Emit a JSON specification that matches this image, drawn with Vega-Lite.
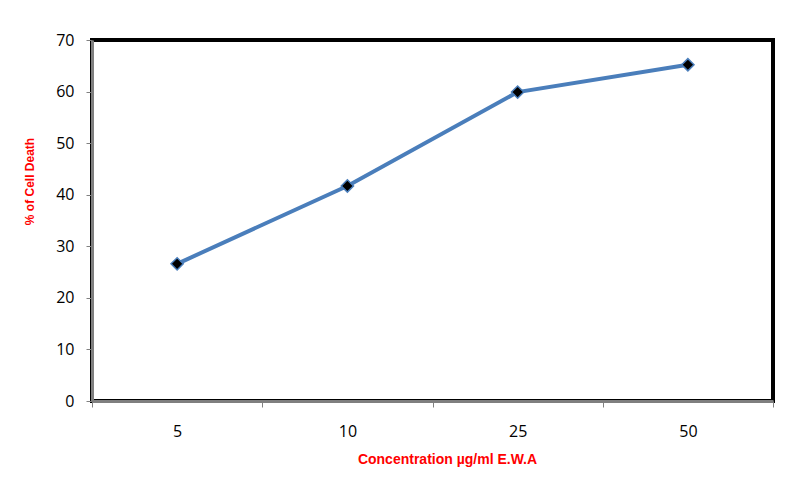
{
  "$schema": "https://vega.github.io/schema/vega-lite/v6.json",
  "width": 681,
  "height": 361,
  "autosize": {"type": "none"},
  "padding": {"left": 92, "top": 40, "right": 39, "bottom": 77},
  "background": "white",
  "config": {
    "view": {"stroke": "black", "strokeWidth": 4},
    "font": "Liberation Sans"
  },
  "data": {
    "values": [
      {"conc": "5", "death": 26.6},
      {"conc": "10", "death": 41.7},
      {"conc": "25", "death": 59.9},
      {"conc": "50", "death": 65.2}
    ]
  },
  "encoding": {
    "x": {
      "field": "conc",
      "type": "ordinal",
      "sort": null,
      "scale": {"type": "band", "paddingInner": 0, "paddingOuter": 0},
      "axis": {
        "title": "Concentration µg/ml E.W.A",
        "titleColor": "#ff0000",
        "titleFont": "Liberation Sans",
        "titleFontWeight": "bold",
        "titleFontSize": 14,
        "titleX": 355,
        "titlePadding": 13,
        "labelAngle": 0,
        "labelFont": "Open Sans",
        "labelFontSize": 16,
        "labelColor": "black",
        "labelPadding": 16,
        "tickBand": "extent",
        "tickSize": 6,
        "tickColor": "#808080",
        "tickWidth": 1,
        "domainColor": "#7f7f7f",
        "domainWidth": 3,
        "grid": false
      }
    },
    "y": {
      "field": "death",
      "type": "quantitative",
      "scale": {"domain": [0, 70], "nice": false},
      "axis": {
        "title": "% of Cell Death",
        "titleColor": "#ff0000",
        "titleFont": "Liberation Sans",
        "titleFontWeight": "bold",
        "titleFontSize": 12,
        "titleY": 141,
        "titlePadding": 19,
        "values": [0, 10, 20, 30, 40, 50, 60, 70],
        "labelFont": "Open Sans",
        "labelFontSize": 16,
        "labelColor": "black",
        "labelPadding": 12,
        "tickSize": 6,
        "tickColor": "#808080",
        "tickWidth": 1,
        "domainColor": "#7f7f7f",
        "domainWidth": 3,
        "grid": false
      }
    }
  },
  "layer": [
    {
      "mark": {"type": "line", "color": "#4a7ebb", "strokeWidth": 4}
    },
    {
      "mark": {
        "type": "point",
        "shape": "diamond",
        "filled": true,
        "fill": "black",
        "stroke": "#4a7ebb",
        "strokeWidth": 1.5,
        "size": 150,
        "opacity": 1
      }
    }
  ]
}
